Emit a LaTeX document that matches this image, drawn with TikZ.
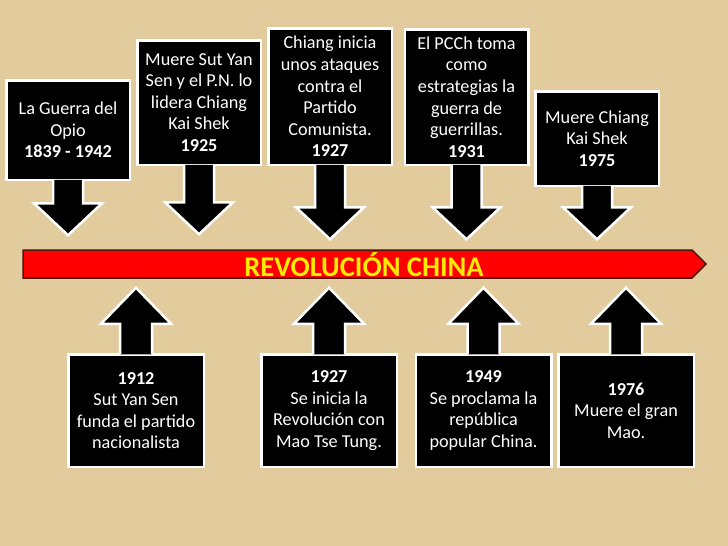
\documentclass[tikz,border=0pt]{standalone}
\usepackage{fontspec}
\setmainfont{Carlito}
\definecolor{parchment}{RGB}{226,204,158}
\definecolor{bardark}{RGB}{80,20,10}
\definecolor{titleyellow}{RGB}{255,236,0}

\begin{document}
\begin{tikzpicture}[x=1pt,y=-1pt,
  eventbox/.style={draw=white,line width=2.5pt,fill=black,text=white,align=center,
    inner sep=0pt,font=\fontsize{18.2}{21.6}\selectfont},
  arrowbody/.style={draw=white,line width=2.5pt,fill=black,line join=miter}]
\useasboundingbox[fill=parchment] (0,0) rectangle (728,546);

% barra central
\draw[fill=red,draw=bardark,line width=1.5pt] (23,250) -- (692,250) -- (706,264) -- (692,278) -- (23,278) -- cycle;
\node[font=\fontsize{28.5}{30}\selectfont\bfseries,text=titleyellow] (rev) at (364,265) {REVOLUCIÓN CHINA};

% eventos de arriba
\foreach \n/\cx/\cy/\h/\L/\txt in {
  1/68/130/102/21/{La Guerra del\\Opio\\\textbf{1839 - 1942}},
  2/199/102.5/127/35/{Muere Sut Yan\\Sen y el P.N. lo\\lidera Chiang\\Kai Shek\\\textbf{1925}},
  3/330/96.5/139/40/{Chiang inicia\\unos ataques\\contra el\\Partido\\Comunista.\\\textbf{1927}},
  4/466.5/97/138/40/{El PCCh toma\\como\\estrategias la\\guerra de\\guerrillas.\\\textbf{1931}},
  5/597/138.5/97/19/{Muere Chiang\\Kai Shek\\\textbf{1975}}}{
  \node[eventbox,minimum width=123.5,minimum height=\h-2.5] (top\n) at (\cx,\cy) {\txt};
  \filldraw[arrowbody] ([xshift=-15pt,yshift=1.25pt]top\n.south) -- ++(0,\L+2.5) -- ++(-19,0)
    -- ++(34,32) -- ++(34,-32) -- ++(-19,0) -- ++(0,-\L-2.5);
}

% eventos de abajo
\foreach \n/\cx/\txt in {
  1/136/{\textbf{1912}\\Sut Yan Sen\\funda el partido\\nacionalista},
  2/329/{\textbf{1927}\\Se inicia la\\Revolución con\\Mao Tse Tung.},
  3/483.5/{\textbf{1949}\\Se proclama la\\república\\popular China.},
  4/626/{\textbf{1976}\\Muere el gran\\Mao.}}{
  \node[eventbox,minimum width=135.5,minimum height=112.5] (bot\n) at (\cx,410.5) {\txt};
  \filldraw[arrowbody] ([xshift=-16pt,yshift=-1.25pt]bot\n.north) -- ++(0,-30.5) -- ++(-19,0)
    -- ++(35,-36) -- ++(35,36) -- ++(-19,0) -- ++(0,30.5);
}
\end{tikzpicture}
\end{document}
